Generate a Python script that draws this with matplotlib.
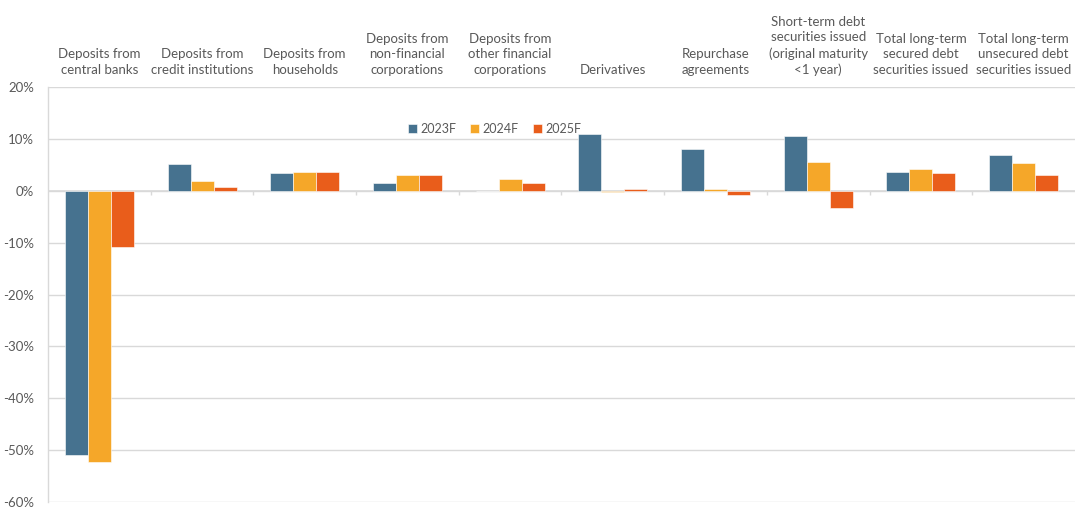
import numpy as np
import matplotlib
matplotlib.use("Agg")
import matplotlib.pyplot as plt
from matplotlib.ticker import FuncFormatter, MultipleLocator

plt.rcParams['font.family'] = ['Lato', 'DejaVu Sans']

categories = [
    "Deposits from\ncentral banks",
    "Deposits from\ncredit institutions",
    "Deposits from\nhouseholds",
    "Deposits from\nnon-financial\ncorporations",
    "Deposits from\nother financial\ncorporations",
    "Derivatives",
    "Repurchase\nagreements",
    "Short-term debt\nsecurities issued\n(original maturity\n<1 year)",
    "Total long-term\nsecured debt\nsecurities issued",
    "Total long-term\nunsecured debt\nsecurities issued",
]
series_names = ["2023F", "2024F", "2025F"]
values_2023 = [-51.0, 5.1, 3.5, 1.5, 0.0, 11.0, 8.0, 10.6, 3.6, 6.8]
values_2024 = [-52.3, 1.9, 3.6, 3.0, 2.2, -0.3, 0.4, 5.6, 4.1, 5.3]
values_2025 = [-10.8, 0.8, 3.7, 3.1, 1.5, 0.3, -0.9, -3.4, 3.5, 3.0]
colors = ["#46728F", "#F5A729", "#E95D1B"]

text_gray = "#595959"
grid_gray = "#D9D9D9"

fig = plt.figure(figsize=(10.76, 5.08), dpi=100)
ax = fig.add_axes([0.0446, 0.0118, 0.9544, 0.8169])

x = np.arange(len(categories))
bw = 0.224
for k, (vals, name, c) in enumerate(zip([values_2023, values_2024, values_2025],
                                         series_names, colors)):
    ax.bar(x + (k - 1) * bw, vals, width=bw, color=c, label=name,
           edgecolor="white", linewidth=0.4, zorder=3)

ax.set_xlim(-0.5, len(categories) - 0.5)
ax.set_ylim(-60, 20)
ax.yaxis.set_major_locator(MultipleLocator(10))
ax.yaxis.set_major_formatter(FuncFormatter(lambda v, p: f"{v:.0f}%"))
ax.grid(axis="y", color=grid_gray, linewidth=1.0, zorder=0)
ax.tick_params(axis="y", length=0, labelsize=9.5, labelcolor=text_gray, pad=10)

# category labels along the top
ax.xaxis.tick_top()
ax.set_xticks(x)
ax.set_xticklabels(categories, fontsize=9.5, color=text_gray, linespacing=1.35)
ax.tick_params(axis="x", length=0, pad=8)

for side in ["top", "right", "bottom"]:
    ax.spines[side].set_visible(False)
ax.spines["left"].set_color(grid_gray)
ax.spines["left"].set_linewidth(1.0)

# category axis at zero with boundary tick marks
ax.axhline(0, color=grid_gray, linewidth=1.2, zorder=2)
bounds = np.arange(len(categories) + 1) - 0.5
ax.vlines(bounds[1:-1], -0.9, 0, color=grid_gray, linewidth=1.0, zorder=2)

ax.legend(loc="center", bbox_to_anchor=(0.435, 0.90), ncol=3, frameon=False,
          fontsize=9, labelcolor=text_gray, handlelength=0.7, handleheight=0.7,
          handletextpad=0.3, columnspacing=1.1)

fig.savefig("out.png", dpi=100)
